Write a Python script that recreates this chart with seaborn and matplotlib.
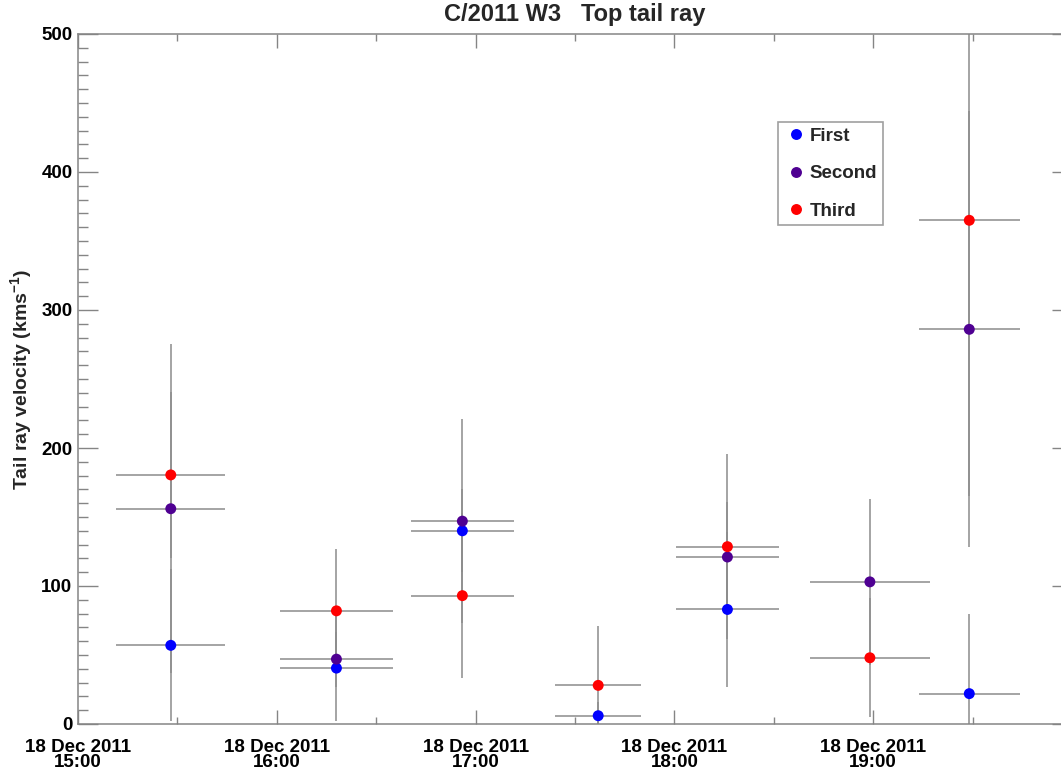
import numpy as np
import pandas as pd
import matplotlib
matplotlib.use("Agg")
import matplotlib.pyplot as plt
import matplotlib.dates as mdates
from matplotlib.ticker import MultipleLocator, FixedLocator
import seaborn as sns

# Observation times (centre of each measurement window) and half-widths in minutes
times = ["2011-12-18 15:28", "2011-12-18 16:18", "2011-12-18 16:56",
         "2011-12-18 17:37", "2011-12-18 18:16", "2011-12-18 18:59",
         "2011-12-18 19:29"]
time_err_min = [16.5, 17.0, 15.5, 13.0, 15.5, 18.0, 15.3]

# Tail ray velocities (km/s) and their uncertainties for each ray
first_v = [57, 40.5, 140, 6, 83, np.nan, 22]
first_err = [55, 38, 30, 10, 56, np.nan, 58]
second_v = [156, 47, 147, np.nan, 121, 103, 286]
second_err = [119, 20, 74, np.nan, 40, 60, 158]
third_v = [180.5, 82, 93, 28, 128.5, 48, 365]
third_err = [60, 45, 60, 43, 67, 43, 200]

series_names = ["First", "Second", "Third"]
colors = {"First": "#0000ff", "Second": "#4f0092", "Third": "#ff0000"}
hour_ticks = ["2011-12-18 15:00", "2011-12-18 16:00", "2011-12-18 17:00",
              "2011-12-18 18:00", "2011-12-18 19:00"]
x_range = ["2011-12-18 15:00", "2011-12-18 20:00"]

tnum = mdates.date2num(pd.to_datetime(times))
terr = np.array(time_err_min) / (24 * 60)

frames = []
for name, v, e in zip(series_names, [first_v, second_v, third_v],
                      [first_err, second_err, third_err]):
    frames.append(pd.DataFrame({"t": tnum, "terr": terr, "velocity": v,
                                "verr": e, "series": name}))
df = pd.concat(frames, ignore_index=True).dropna()

sns.set_theme(style="ticks")
plt.rcParams["font.family"] = ["Liberation Sans", "DejaVu Sans"]
plt.rcParams["font.weight"] = "bold"
plt.rcParams["mathtext.fontset"] = "custom"
plt.rcParams["mathtext.rm"] = "Liberation Sans:bold"
plt.rcParams["mathtext.it"] = "Liberation Sans:bold"
plt.rcParams["mathtext.bf"] = "Liberation Sans:bold"
plt.rcParams["mathtext.default"] = "rm"

W, H = 1061, 773
x0, x1, y0, y1 = 78, 1072, 34, 724
fig = plt.figure(figsize=(W / 100, H / 100), dpi=100)
ax = fig.add_axes([x0 / W, 1 - y1 / H, (x1 - x0) / W, (y1 - y0) / H])

axis_grey = "#858585"

# error bars behind the markers
for name in series_names:
    sub = df[df["series"] == name]
    ax.errorbar(sub["t"], sub["velocity"], xerr=sub["terr"], yerr=sub["verr"],
                fmt="none", ecolor="#8c8c8c", elinewidth=1.1, capsize=0,
                zorder=1)

sns.scatterplot(data=df, x="t", y="velocity", hue="series",
                hue_order=series_names, palette=colors, s=62,
                edgecolor="none", linewidth=0, ax=ax, zorder=3)

xlim = mdates.date2num(pd.to_datetime(x_range))
ax.set_xlim(xlim[0], xlim[1])
ax.set_ylim(0, 500)

ax.xaxis.set_major_locator(FixedLocator(mdates.date2num(pd.to_datetime(hour_ticks))))
ax.xaxis.set_minor_locator(mdates.MinuteLocator(byminute=[30]))
ax.xaxis.set_major_formatter(mdates.DateFormatter("%d %b %Y\n%H:%M"))
ax.yaxis.set_major_locator(MultipleLocator(100))
ax.yaxis.set_minor_locator(MultipleLocator(10))

ax.tick_params(axis="x", which="major", direction="in", length=10, width=1,
               color=axis_grey, top=True, bottom=True, pad=10.5,
               labelsize=13.5, labelcolor="black")
ax.tick_params(axis="x", which="minor", direction="in", length=5, width=1,
               color=axis_grey, top=True, bottom=True)
ax.tick_params(axis="y", which="major", direction="in", length=14.5, width=1,
               color=axis_grey, left=True, right=True, pad=4,
               labelsize=13.5, labelcolor="black")
ax.tick_params(axis="y", which="minor", direction="in", length=7.2, width=1,
               color=axis_grey, left=True, right=True)
for lab in ax.get_yticklabels():
    lab.set_fontweight("bold")
for tick in ax.xaxis.get_major_ticks():
    tick.label1.set_linespacing(0.85)
    tick.label1.set_fontweight("bold")

for sp in ax.spines.values():
    sp.set_color(axis_grey)
    sp.set_linewidth(1.1)
    sp.set_visible(True)

ax.set_xlabel("")
ax.set_ylabel("Tail ray velocity (kms$^{-1}$)", fontsize=14, fontweight="bold",
              labelpad=5)
ax.set_title("C/2011 W3   Top tail ray", fontsize=17, fontweight="bold", pad=9)

handles, labels = ax.get_legend_handles_labels()
leg = ax.legend(handles, labels, loc="upper left",
                bbox_to_anchor=((778 - x0) / (x1 - x0), (y1 - 122) / (y1 - y0)),
                borderaxespad=0, frameon=True, fancybox=False,
                edgecolor="#a0a0a0", framealpha=1,
                prop={"size": 13.5, "weight": "bold"},
                borderpad=0.3, handlelength=1.35, handletextpad=0.05,
                labelspacing=1.08)
leg.get_frame().set_linewidth(1.2)

fig.savefig("out.png", dpi=100)
